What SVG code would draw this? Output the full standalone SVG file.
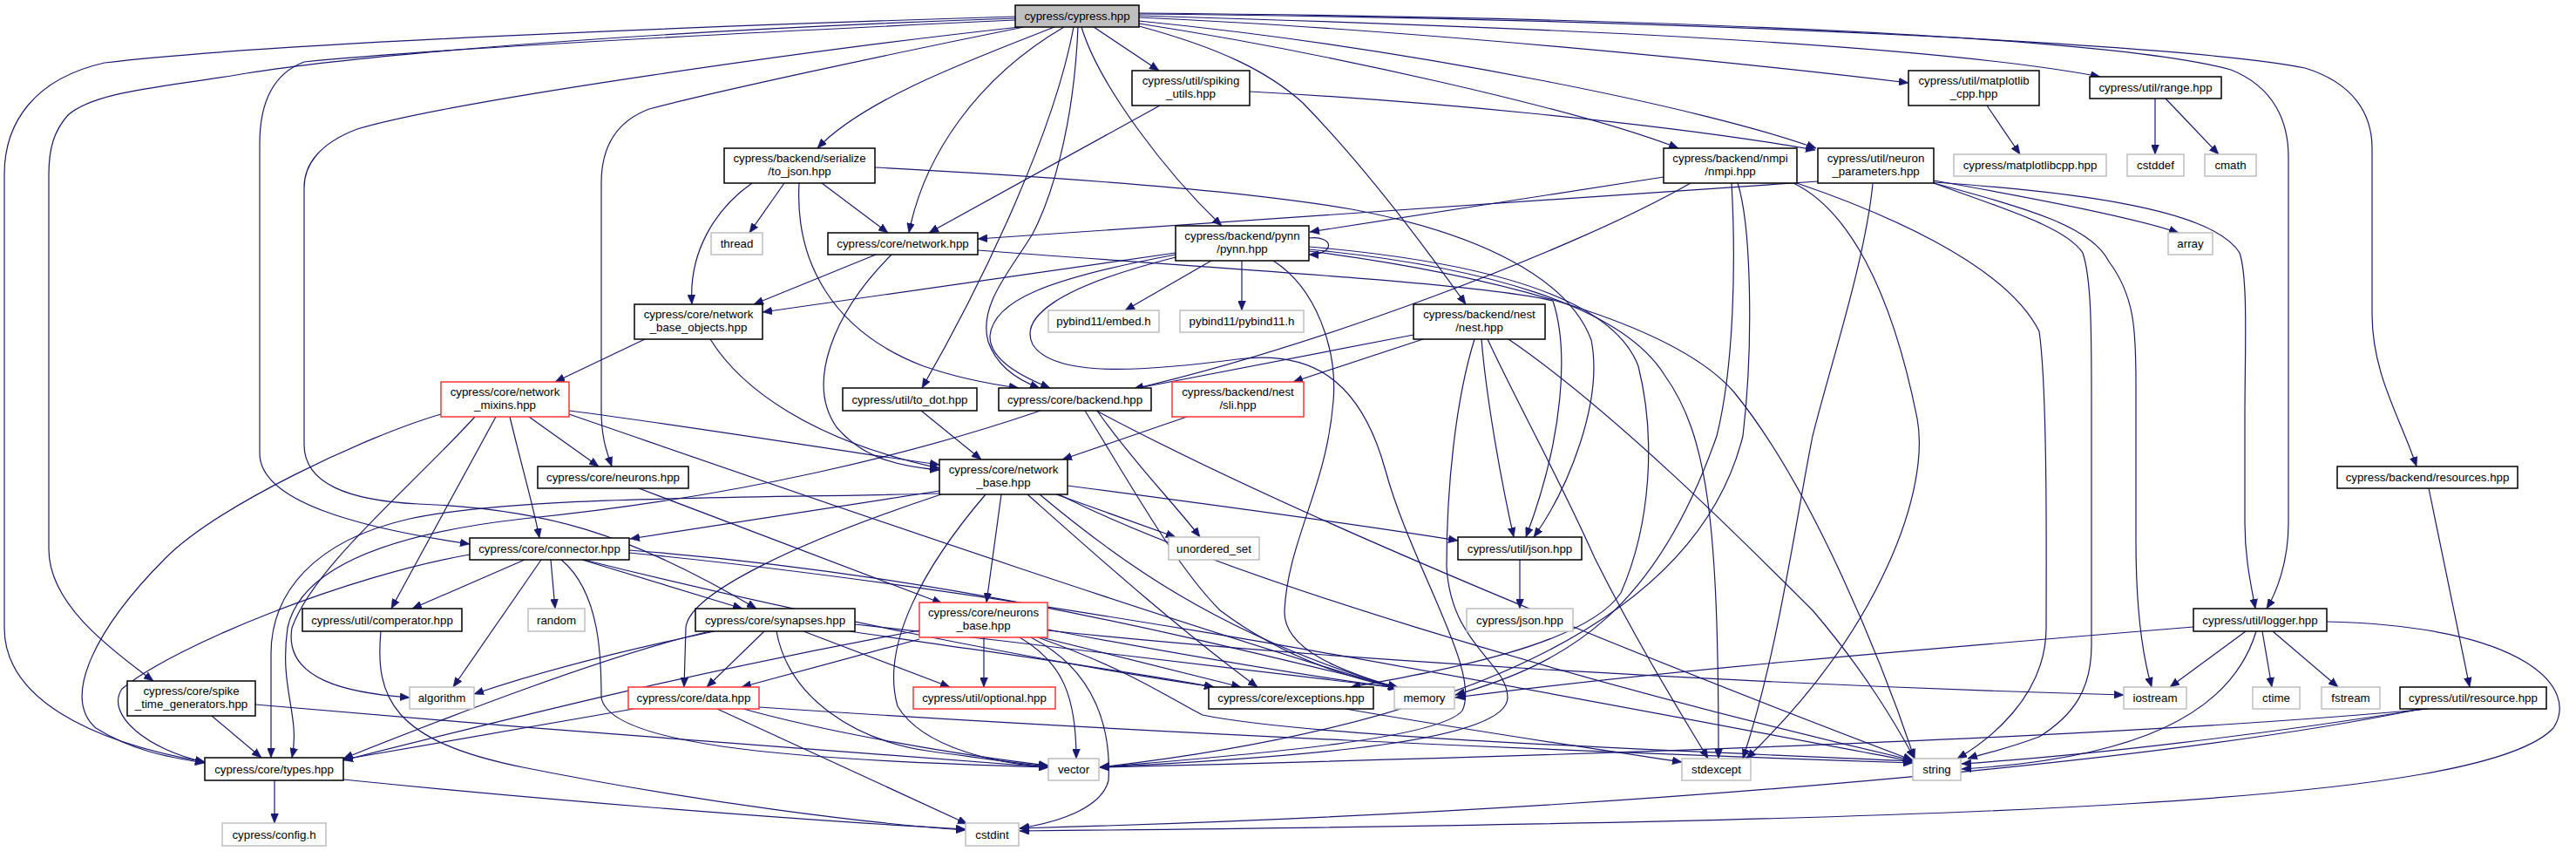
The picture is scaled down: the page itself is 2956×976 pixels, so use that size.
<svg xmlns="http://www.w3.org/2000/svg" width="2956" height="976" viewBox="0 0 2956 976">
<style>
.n rect{fill:#fff;stroke:#000;stroke-width:1.5}
.g rect{fill:#fff;stroke:#bfbfbf;stroke-width:1.5}
.r rect{fill:#fff;stroke:#ff3333;stroke-width:1.5}
.root rect{fill:#bfbfbf;stroke:#000;stroke-width:1.5}
text{font-family:"Liberation Sans",Arial,sans-serif;font-size:13.3px;text-anchor:middle;fill:#000}
#edges path{fill:none;stroke:#191970;stroke-width:1.2;marker-end:url(#a)}
</style>
<defs>
<marker id="a" markerWidth="11" markerHeight="9" refX="11" refY="4.5" orient="auto" markerUnits="userSpaceOnUse"><path d="M0,0 L11,4.5 L0,9 z" fill="#191970" stroke="#191970" stroke-width="0.5"/></marker>
</defs>
<rect width="2956" height="976" fill="#fff"/>
<g id="edges">
<path d="M1165,19 C800,30 300,50 120,72 C40,90 5,140 5,200 L5,720 C5,800 100,850 235,874"/>
<path d="M1165,21 C750,35 420,62 283,84 C190,100 110,104 78,132 C62,150 56,170 56,200 L56,630 C56,690 120,740 176,781"/>
<path d="M1165,23 C950,33 520,54 349,71 C312,85 298,120 298,165 L298,520 C298,575 410,605 539,624"/>
<path d="M1170,31 C950,55 520,115 410,148 C365,165 349,190 349,215 L349,510 C349,555 400,574 480,578 C620,583 720,610 868,698"/>
<path d="M1175,31 C1030,60 820,105 745,125 C705,140 690,170 690,210 L690,470 C690,500 695,515 702,535"/>
<path d="M1210,31 C1110,70 990,115 938,170"/>
<path d="M1221,31 C1120,90 1060,180 1043,267"/>
<path d="M1232,31 C1210,150 1130,320 1058,445"/>
<path d="M1237,31 C1232,150 1205,230 1185,268 C1160,310 1122,350 1134,392 C1144,420 1168,436 1193,445"/>
<path d="M1255,31 L1330,81"/>
<path d="M1241,31 C1262,100 1340,200 1402,259"/>
<path d="M1307,30 C1400,55 1455,82 1495,118 C1570,195 1640,290 1682,349"/>
<path d="M1307,27 C1520,60 1810,125 1926,170"/>
<path d="M1307,24 C1620,55 1960,125 2084,170"/>
<path d="M1307,20 C1620,34 2000,72 2190,95"/>
<path d="M1307,18 C1720,30 2200,48 2410,88"/>
<path d="M1307,15 C1900,20 2420,42 2560,80 C2610,100 2626,140 2626,180 L2626,600 C2626,645 2612,680 2601,698"/>
<path d="M1307,16 C1950,22 2520,52 2645,78 C2700,95 2722,130 2722,170 L2722,360 C2722,430 2755,480 2773,535"/>
<path d="M900,210 L860,267"/>
<path d="M863,210 C820,240 790,290 794,349"/>
<path d="M943,210 L1019,267"/>
<path d="M917,210 C912,300 955,380 1060,420 C1100,434 1140,441 1169,445"/>
<path d="M1004,192 C1250,205 1450,222 1551,240 C1700,268 1800,320 1826,390 C1840,460 1800,560 1760,616"/>
<path d="M1331,121 L1066,267"/>
<path d="M1434,105 C1620,115 1900,140 2083,172"/>
<path d="M1005,292 L865,349"/>
<path d="M1023,292 C955,360 925,440 960,490 C990,525 1030,535 1078,539"/>
<path d="M1122,287 C1400,308 1700,325 1782,345 C1800,400 1795,500 1751,616"/>
<path d="M1502,273 C1532,270 1532,292 1502,292"/>
<path d="M1390,299 L1291,356"/>
<path d="M1425,299 L1425,356"/>
<path d="M1349,290 L875,358"/>
<path d="M1349,292 C1200,320 1140,345 1136,385 C1135,415 1180,435 1205,445"/>
<path d="M1461,299 C1510,330 1535,400 1530,460 C1522,560 1478,620 1474,700 C1472,745 1540,770 1604,789"/>
<path d="M1349,295 C1210,330 1170,365 1185,395 C1210,435 1320,425 1420,412 C1500,402 1560,430 1590,540 C1620,650 1700,770 1678,815 C1650,850 1400,868 1262,880"/>
<path d="M1502,283 C1700,300 1850,340 1880,420 C1900,500 1895,600 1860,680 C1820,740 1650,770 1550,788"/>
<path d="M1502,286 C1700,305 1860,350 1910,430 C1960,500 1972,600 1972,870"/>
<path d="M1502,288 C1750,320 1930,380 1990,450 C2080,560 2160,760 2197,870"/>
<path d="M740,389 L637,438"/>
<path d="M815,389 C850,445 930,505 1078,537"/>
<path d="M506,475 C420,500 250,580 190,640 C110,720 70,800 110,835 C150,860 190,868 235,875"/>
<path d="M545,478 C470,560 360,650 335,720 C325,780 400,795 470,800"/>
<path d="M569,478 L449,698"/>
<path d="M585,478 C600,540 612,580 619,617"/>
<path d="M607,478 L687,535"/>
<path d="M653,471 C800,490 950,515 1078,533"/>
<path d="M653,475 C900,560 1300,700 1604,790"/>
<path d="M602,642 L473,698"/>
<path d="M632,642 L637,698"/>
<path d="M621,642 L520,788"/>
<path d="M668,642 L852,698"/>
<path d="M644,642 C690,680 690,760 690,800 C700,860 950,872 1203,880"/>
<path d="M539,636 C400,660 200,740 140,790 C120,820 170,860 235,874"/>
<path d="M722,631 C1100,660 1400,740 1604,788"/>
<path d="M722,634 C1200,680 1800,800 2195,873"/>
<path d="M670,642 C900,700 1200,760 1393,788"/>
<path d="M820,724 C720,745 620,770 544,796"/>
<path d="M815,724 C700,750 520,820 394,870"/>
<path d="M877,724 L811,788"/>
<path d="M922,724 L1090,788"/>
<path d="M891,724 C905,800 980,850 1070,862 C1130,870 1170,876 1203,879"/>
<path d="M981,716 C1200,740 1450,770 1604,789"/>
<path d="M975,724 C1150,750 1300,770 1393,788"/>
<path d="M733,560 L1081,692"/>
<path d="M1078,563 L723,618"/>
<path d="M1078,566 C850,572 600,568 470,595 C360,620 311,680 311,750 L311,869"/>
<path d="M1080,567 C920,620 790,680 787,720 L785,788"/>
<path d="M1149,567 L1132,691"/>
<path d="M1131,567 C1060,650 1010,740 1030,810 C1060,860 1150,876 1203,880"/>
<path d="M1179,567 C1250,630 1350,720 1443,788"/>
<path d="M1193,567 C1280,640 1400,730 1604,789"/>
<path d="M1212,567 L1349,616"/>
<path d="M1225,557 C1400,580 1550,600 1673,620"/>
<path d="M1215,567 C1400,660 1800,780 2195,872"/>
<path d="M1194,471 C1050,520 850,570 600,595 C450,612 345,650 330,720 C320,790 345,820 335,869"/>
<path d="M1245,471 C1300,560 1350,650 1400,700 C1480,760 1560,780 1604,789"/>
<path d="M1258,471 C1500,600 1900,760 2195,872"/>
<path d="M1259,471 C1300,530 1350,580 1377,616"/>
<path d="M1362,478 L1219,527"/>
<path d="M1636,388 L1484,438"/>
<path d="M1622,384 L1301,446"/>
<path d="M1700,389 C1705,450 1720,540 1737,616"/>
<path d="M1692,389 C1670,460 1660,560 1660,650 C1665,740 1730,760 1730,800 C1730,850 1500,868 1262,880"/>
<path d="M1707,389 C1740,460 1790,550 1830,640 C1880,740 1930,820 1960,870"/>
<path d="M1731,389 C1850,470 2000,620 2080,700 C2140,770 2175,830 2197,870"/>
<path d="M1744,642 L1744,698"/>
<path d="M1909,203 L1503,266"/>
<path d="M1940,210 C1800,290 1500,400 1301,446"/>
<path d="M1987,210 C1992,300 1990,420 1970,500 C1900,700 1800,760 1670,797"/>
<path d="M1994,210 C2010,260 2012,400 2000,500 C1950,700 1700,830 1262,880"/>
<path d="M2062,210 C2150,240 2300,300 2340,380 C2350,450 2348,650 2348,720 C2348,800 2280,850 2246,870"/>
<path d="M2058,210 C2120,240 2170,330 2200,480 C2215,560 2160,720 2004,870"/>
<path d="M2086,208 C1700,232 1400,255 1122,274"/>
<path d="M2219,207 C2350,230 2450,250 2500,267"/>
<path d="M2219,209 C2380,220 2540,240 2570,290 C2580,320 2576,400 2576,480 L2576,600 C2576,640 2583,670 2588,698"/>
<path d="M2219,210 C2330,240 2400,260 2420,300 C2450,340 2451,380 2451,440 L2451,620 C2451,700 2458,750 2469,788"/>
<path d="M2219,210 C2300,240 2370,260 2390,290 C2400,320 2400,380 2400,460 L2400,740 C2400,790 2380,820 2340,845 C2300,860 2270,866 2258,870"/>
<path d="M2149,211 C2140,300 2100,420 2080,500 C2060,600 2040,750 2000,870"/>
<path d="M2517,719 C2200,745 1900,770 1670,800"/>
<path d="M2577,724 L2490,788"/>
<path d="M2596,724 L2607,788"/>
<path d="M2608,724 L2683,788"/>
<path d="M2589,724 C2560,820 2450,870 2251,882"/>
<path d="M2670,713 C2900,718 2960,790 2930,835 C2850,920 2300,942 1170,953"/>
<path d="M2787,560 L2834,788"/>
<path d="M2787,813 C2500,840 2000,862 1262,880"/>
<path d="M2782,813 C2600,842 2400,866 2251,876"/>
<path d="M2778,813 C2500,870 1900,930 1170,950"/>
<path d="M727,813 L394,871"/>
<path d="M853,813 C950,840 1100,866 1203,878"/>
<path d="M823,813 L1110,945"/>
<path d="M871,811 C1300,840 1800,862 2195,875"/>
<path d="M1129,731 L1129,788"/>
<path d="M1055,733 L851,788"/>
<path d="M1055,723 C800,770 600,820 394,872"/>
<path d="M1170,731 C1220,760 1235,800 1235,870"/>
<path d="M1183,731 C1260,770 1275,840 1272,895 C1265,925 1220,942 1170,950"/>
<path d="M1195,731 L1424,788"/>
<path d="M1202,722 C1350,750 1500,775 1604,789"/>
<path d="M1191,731 C1300,770 1340,800 1380,820 C1500,845 1900,860 2195,873"/>
<path d="M1202,723 C1500,755 2000,785 2437,797"/>
<path d="M1544,813 C1700,840 1850,862 1930,874"/>
<path d="M437,724 C430,800 450,850 600,880 C800,920 1000,945 1108,952"/>
<path d="M315,895 L315,944"/>
<path d="M394,894 C600,915 900,940 1108,951"/>
<path d="M243,821 L300,869"/>
<path d="M293,808 C600,835 1000,866 1203,880"/>
<path d="M1057,471 L1126,527"/>
<path d="M2280,121 L2318,177"/>
<path d="M2473,113 L2473,177"/>
<path d="M2485,113 L2546,177"/>
</g>
<g id="root" class="root"><rect x="1165" y="6" width="142" height="25"/><text x="1236" y="23">cypress/cypress.hpp</text></g>
<g id="spiking" class="n"><rect x="1299" y="81" width="135" height="40"/><text x="1366.5" y="96.5">cypress/util/spiking</text><text x="1366.5" y="111.5">_utils.hpp</text></g>
<g id="tojson" class="n"><rect x="831" y="170" width="173" height="40"/><text x="917.5" y="185.5">cypress/backend/serialize</text><text x="917.5" y="200.5">/to_json.hpp</text></g>
<g id="thread" class="g"><rect x="816" y="267" width="59" height="25"/><text x="845.5" y="284">thread</text></g>
<g id="network" class="n"><rect x="950" y="267" width="172" height="25"/><text x="1036" y="284">cypress/core/network.hpp</text></g>
<g id="pynn" class="n"><rect x="1349" y="259" width="153" height="40"/><text x="1425.5" y="274.5">cypress/backend/pynn</text><text x="1425.5" y="289.5">/pynn.hpp</text></g>
<g id="nbo" class="n"><rect x="728" y="349" width="147" height="40"/><text x="801.5" y="364.5">cypress/core/network</text><text x="801.5" y="379.5">_base_objects.hpp</text></g>
<g id="embed" class="g"><rect x="1203" y="356" width="127" height="25"/><text x="1266.5" y="373">pybind11/embed.h</text></g>
<g id="pybind11" class="g"><rect x="1354" y="356" width="142" height="25"/><text x="1425" y="373">pybind11/pybind11.h</text></g>
<g id="todot" class="n"><rect x="967" y="445" width="154" height="26"/><text x="1044" y="462.5">cypress/util/to_dot.hpp</text></g>
<g id="backend" class="n"><rect x="1146" y="445" width="175" height="26"/><text x="1233.5" y="462.5">cypress/core/backend.hpp</text></g>
<g id="sli" class="r"><rect x="1345" y="438" width="151" height="40"/><text x="1420.5" y="453.5">cypress/backend/nest</text><text x="1420.5" y="468.5">/sli.hpp</text></g>
<g id="nest" class="n"><rect x="1622" y="349" width="151" height="40"/><text x="1697.5" y="364.5">cypress/backend/nest</text><text x="1697.5" y="379.5">/nest.hpp</text></g>
<g id="nmpi" class="n"><rect x="1909" y="170" width="153" height="40"/><text x="1985.5" y="185.5">cypress/backend/nmpi</text><text x="1985.5" y="200.5">/nmpi.hpp</text></g>
<g id="nparams" class="n"><rect x="2086" y="170" width="133" height="40"/><text x="2152.5" y="185.5">cypress/util/neuron</text><text x="2152.5" y="200.5">_parameters.hpp</text></g>
<g id="mplcpp" class="n"><rect x="2190" y="81" width="150" height="40"/><text x="2265" y="96.5">cypress/util/matplotlib</text><text x="2265" y="111.5">_cpp.hpp</text></g>
<g id="range" class="n"><rect x="2398" y="88" width="151" height="25"/><text x="2473.5" y="105">cypress/util/range.hpp</text></g>
<g id="mpl" class="g"><rect x="2242" y="177" width="175" height="25"/><text x="2329.5" y="194">cypress/matplotlibcpp.hpp</text></g>
<g id="cstddef" class="g"><rect x="2441" y="177" width="65" height="25"/><text x="2473.5" y="194">cstddef</text></g>
<g id="cmath" class="g"><rect x="2530" y="177" width="59" height="25"/><text x="2559.5" y="194">cmath</text></g>
<g id="array" class="g"><rect x="2488" y="267" width="51" height="25"/><text x="2513.5" y="284">array</text></g>
<g id="mixins" class="r"><rect x="506" y="438" width="147" height="40"/><text x="579.5" y="453.5">cypress/core/network</text><text x="579.5" y="468.5">_mixins.hpp</text></g>
<g id="neurons" class="n"><rect x="617" y="535" width="173" height="25"/><text x="703.5" y="552">cypress/core/neurons.hpp</text></g>
<g id="netbase" class="n"><rect x="1078" y="527" width="147" height="40"/><text x="1151.5" y="542.5">cypress/core/network</text><text x="1151.5" y="557.5">_base.hpp</text></g>
<g id="uset" class="g"><rect x="1341" y="616" width="104" height="26"/><text x="1393" y="633.5">unordered_set</text></g>
<g id="json" class="n"><rect x="1673" y="616" width="142" height="26"/><text x="1744" y="633.5">cypress/util/json.hpp</text></g>
<g id="cjson" class="g"><rect x="1683" y="698" width="122" height="26"/><text x="1744" y="715.5">cypress/json.hpp</text></g>
<g id="connector" class="n"><rect x="539" y="617" width="183" height="25"/><text x="630.5" y="634">cypress/core/connector.hpp</text></g>
<g id="comperator" class="n"><rect x="347" y="698" width="183" height="26"/><text x="438.5" y="715.5">cypress/util/comperator.hpp</text></g>
<g id="random" class="g"><rect x="606" y="698" width="65" height="26"/><text x="638.5" y="715.5">random</text></g>
<g id="synapses" class="n"><rect x="798" y="698" width="183" height="26"/><text x="889.5" y="715.5">cypress/core/synapses.hpp</text></g>
<g id="nbase" class="r"><rect x="1055" y="691" width="147" height="40"/><text x="1128.5" y="706.5">cypress/core/neurons</text><text x="1128.5" y="721.5">_base.hpp</text></g>
<g id="logger" class="n"><rect x="2517" y="698" width="153" height="26"/><text x="2593.5" y="715.5">cypress/util/logger.hpp</text></g>
<g id="resources" class="n"><rect x="2682" y="535" width="207" height="25"/><text x="2785.5" y="552">cypress/backend/resources.hpp</text></g>
<g id="spike" class="n"><rect x="146" y="781" width="147" height="40"/><text x="219.5" y="796.5">cypress/core/spike</text><text x="219.5" y="811.5">_time_generators.hpp</text></g>
<g id="algorithm" class="g"><rect x="470" y="788" width="74" height="25"/><text x="507" y="805">algorithm</text></g>
<g id="data" class="r"><rect x="721" y="788" width="150" height="25"/><text x="796" y="805">cypress/core/data.hpp</text></g>
<g id="optional" class="r"><rect x="1048" y="788" width="163" height="25"/><text x="1129.5" y="805">cypress/util/optional.hpp</text></g>
<g id="exceptions" class="n"><rect x="1387" y="788" width="189" height="25"/><text x="1481.5" y="805">cypress/core/exceptions.hpp</text></g>
<g id="memory" class="g"><rect x="1600" y="788" width="69" height="25"/><text x="1634.5" y="805">memory</text></g>
<g id="iostream" class="g"><rect x="2437" y="788" width="72" height="25"/><text x="2473" y="805">iostream</text></g>
<g id="ctime" class="g"><rect x="2585" y="788" width="54" height="25"/><text x="2612" y="805">ctime</text></g>
<g id="fstream" class="g"><rect x="2664" y="788" width="67" height="25"/><text x="2697.5" y="805">fstream</text></g>
<g id="resource" class="n"><rect x="2754" y="788" width="168" height="25"/><text x="2838" y="805">cypress/util/resource.hpp</text></g>
<g id="types" class="n"><rect x="235" y="869" width="159" height="26"/><text x="314.5" y="886.5">cypress/core/types.hpp</text></g>
<g id="vector" class="g"><rect x="1203" y="870" width="58" height="25"/><text x="1232" y="887">vector</text></g>
<g id="stdexcept" class="g"><rect x="1930" y="870" width="79" height="25"/><text x="1969.5" y="887">stdexcept</text></g>
<g id="string" class="g"><rect x="2195" y="870" width="55" height="25"/><text x="2222.5" y="887">string</text></g>
<g id="config" class="g"><rect x="255" y="944" width="119" height="26"/><text x="314.5" y="961.5">cypress/config.h</text></g>
<g id="cstdint" class="g"><rect x="1108" y="944" width="61" height="26"/><text x="1138.5" y="961.5">cstdint</text></g>
</svg>
